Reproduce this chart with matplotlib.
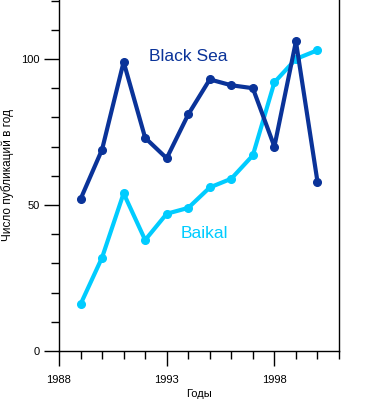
import numpy as np
import matplotlib
matplotlib.use("Agg")
import matplotlib.pyplot as plt
from matplotlib.ticker import MultipleLocator, FixedLocator

plt.rcParams['font.family'] = ['Liberation Sans', 'DejaVu Sans']

years = [1989, 1990, 1991, 1992, 1993, 1994, 1995, 1996, 1997, 1998, 1999, 2000]
black_sea = [52, 69, 99, 73, 66, 81, 93, 91, 90, 70, 106, 58]
baikal = [16, 32, 54, 38, 47, 49, 56, 59, 67, 92, 100, 103]

dark = "#0a3399"
cyan = "#00ccff"

fig = plt.figure(figsize=(3.77, 4.01), dpi=100)
ax = fig.add_axes([59 / 377, 50 / 401, 280 / 377, 351 / 401])

ax.plot(years, baikal, color=cyan, lw=3, marker="o", ms=5.5, solid_joinstyle="round")
ax.plot(years, black_sea, color=dark, lw=3, marker="o", ms=5.5, solid_joinstyle="round")

ax.set_xlim(1988, 2001)
ax.set_ylim(0, 120.2)

ax.spines['top'].set_visible(False)
for s in ['left', 'right', 'bottom']:
    ax.spines[s].set_linewidth(1.0)
    ax.spines[s].set_color("black")

# y ticks
ax.yaxis.set_major_locator(FixedLocator([0, 50, 100]))
ax.yaxis.set_minor_locator(MultipleLocator(10))
ax.tick_params(axis='y', which='major', length=11, width=1, labelsize=8, pad=3)
ax.tick_params(axis='y', which='minor', length=6, width=1)
ax.set_yticklabels(["0", "50", "100"])

# x ticks
ax.xaxis.set_major_locator(FixedLocator([1988, 1993, 1998]))
ax.xaxis.set_minor_locator(MultipleLocator(1))
ax.tick_params(axis='x', which='major', length=11, width=1, labelsize=8, pad=6)
ax.tick_params(axis='x', which='minor', length=5.5, width=1)
ax.set_xticklabels(["1988", "1993", "1998"])

fig.text(8 / 377, 1 - 175 / 401, "Число публикаций в год", fontsize=8.5,
         rotation=90, ha="center", va="center")
ax.set_xlabel("Годы", fontsize=8, labelpad=3)

ax.text(1994.0, 101, "Black Sea", color=dark, fontsize=12.5, ha="center", va="center")
ax.text(1994.75, 40.2, "Baikal", color=cyan, fontsize=12.5, ha="center", va="center")

fig.savefig("out.png", dpi=100)
